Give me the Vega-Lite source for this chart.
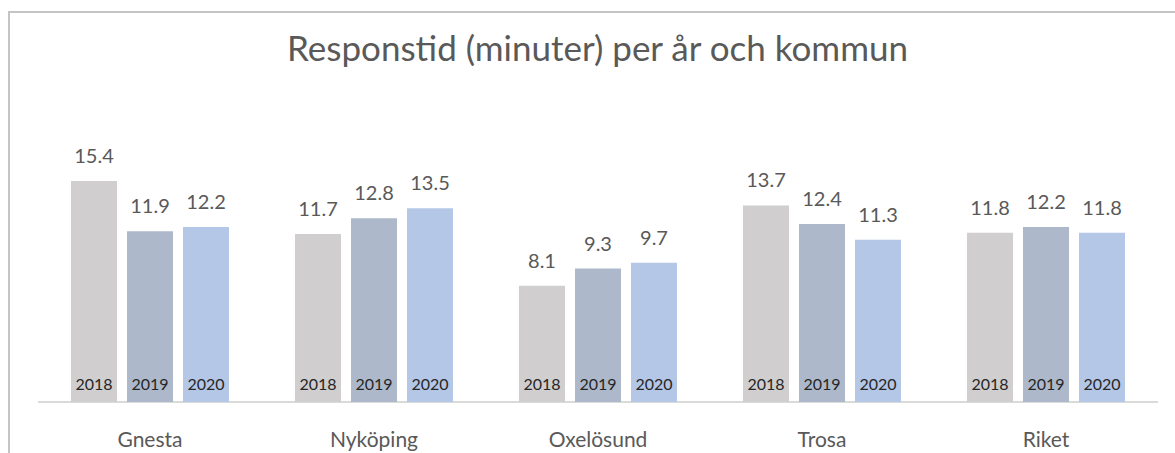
{
  "$schema": "https://vega.github.io/schema/vega-lite/v6.json",
  "autosize": {"type": "none"},
  "width": 1167,
  "height": 442,
  "padding": {"left": 9, "top": 12, "right": 0, "bottom": 0},
  "background": "white",
  "title": {
    "text": "Responstid (minuter) per år och kommun",
    "font": "Lato",
    "fontSize": 35,
    "fontWeight": "normal",
    "color": "#595959",
    "anchor": "middle",
    "frame": "group",
    "offset": -84,
    "baseline": "alphabetic",
    "dx": 5
  },
  "config": {"view": {"stroke": "#c4c4c4", "strokeWidth": 2}, "font": "Lato"},
  "data": {
    "values": [
      {"kommun": "Gnesta", "year": "2018", "value": 15.4},
      {"kommun": "Gnesta", "year": "2019", "value": 11.9},
      {"kommun": "Gnesta", "year": "2020", "value": 12.2},
      {"kommun": "Nyköping", "year": "2018", "value": 11.7},
      {"kommun": "Nyköping", "year": "2019", "value": 12.8},
      {"kommun": "Nyköping", "year": "2020", "value": 13.5},
      {"kommun": "Oxelösund", "year": "2018", "value": 8.1},
      {"kommun": "Oxelösund", "year": "2019", "value": 9.3},
      {"kommun": "Oxelösund", "year": "2020", "value": 9.7},
      {"kommun": "Trosa", "year": "2018", "value": 13.7},
      {"kommun": "Trosa", "year": "2019", "value": 12.4},
      {"kommun": "Trosa", "year": "2020", "value": 11.3},
      {"kommun": "Riket", "year": "2018", "value": 11.8},
      {"kommun": "Riket", "year": "2019", "value": 12.2},
      {"kommun": "Riket", "year": "2020", "value": 11.8}
    ]
  },
  "encoding": {
    "x": {
      "field": "kommun",
      "type": "nominal",
      "sort": ["Gnesta", "Nyköping", "Oxelösund", "Trosa", "Riket"],
      "scale": {"paddingInner": 0, "paddingOuter": 0.1049, "align": 0.617},
      "axis": {
        "title": null,
        "orient": "bottom",
        "offset": -52,
        "domain": false,
        "ticks": false,
        "grid": false,
        "labelAngle": 0,
        "labelPadding": 27,
        "labelFont": "Lato",
        "labelFontSize": 21,
        "labelColor": "#595959"
      }
    }
  },
  "layer": [
    {
      "mark": {"type": "tick", "orient": "horizontal", "size": 224, "thickness": 2, "color": "#d9d9d9"},
      "encoding": {
        "y": {"datum": 0, "type": "quantitative", "scale": {"domain": [-3.624, 27.18], "nice": false, "zero": false}, "axis": null}
      }
    },
    {
      "mark": {"type": "bar"},
      "encoding": {
        "xOffset": {"field": "year", "type": "nominal", "scale": {"paddingInner": 0.1786, "paddingOuter": 0.589}},
        "y": {"field": "value", "type": "quantitative", "scale": {"domain": [-3.624, 27.18], "nice": false, "zero": false}, "axis": null},
        "y2": {"datum": 0},
        "color": {
          "field": "year",
          "type": "nominal",
          "scale": {"domain": ["2018", "2019", "2020"], "range": ["#d0cece", "#adb9ca", "#b4c7e7"]},
          "legend": null
        }
      }
    },
    {
      "mark": {"type": "text", "baseline": "alphabetic", "dy": -18, "fontSize": 20, "color": "#595959", "font": "Lato"},
      "encoding": {
        "xOffset": {"field": "year", "type": "nominal"},
        "y": {"field": "value", "type": "quantitative"},
        "text": {"field": "value", "type": "quantitative", "format": ".1f"}
      }
    },
    {
      "mark": {"type": "text", "baseline": "alphabetic", "dy": -12, "fontSize": 16, "color": "#262626", "font": "Lato"},
      "encoding": {
        "xOffset": {"field": "year", "type": "nominal"},
        "y": {"datum": 0, "type": "quantitative"},
        "text": {"field": "year", "type": "nominal"}
      }
    }
  ]
}
